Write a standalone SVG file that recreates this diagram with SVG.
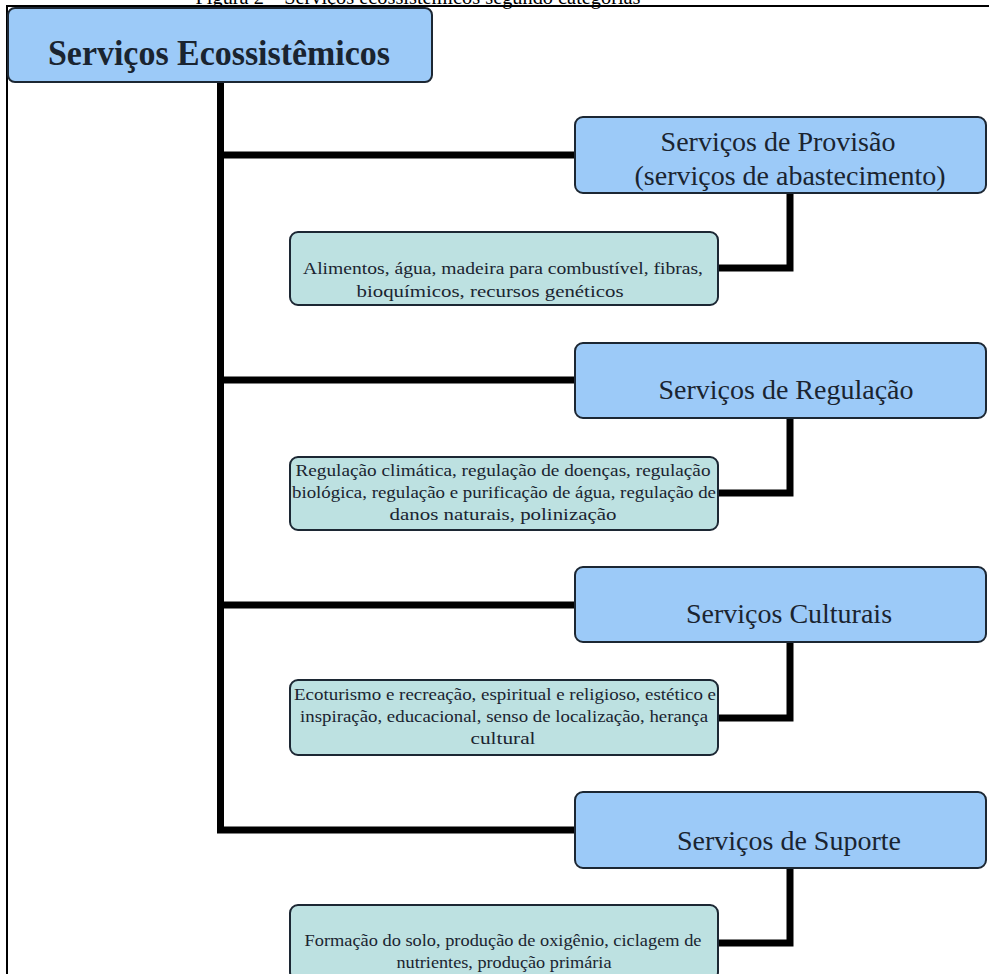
<svg xmlns="http://www.w3.org/2000/svg" width="989" height="974" viewBox="0 0 989 974">
<style>
.cat{fill:#9ccaf8;stroke:#1c2733;stroke-width:2}
.det{fill:#bde1e1;stroke:#1c2733;stroke-width:2}
.conn{fill:none;stroke:#000;stroke-width:7;stroke-linejoin:miter;stroke-linecap:butt}
.frame{fill:none;stroke:#000;stroke-width:2}
.t1{font-family:"Liberation Serif",serif;font-weight:bold;font-size:35px;fill:#1a2430;text-anchor:middle}
.t2{font-family:"Liberation Serif",serif;font-size:28px;fill:#1a2430;text-anchor:middle}
.t3{font-family:"Liberation Serif",serif;font-size:16.5px;fill:#1a2430;text-anchor:middle}
.cap{font-family:"Liberation Serif",serif;font-size:20px;fill:#000;text-anchor:middle}
</style>
<rect width="989" height="974" fill="#fff"/>
<text class="cap" x="418" y="4" textLength="445" lengthAdjust="spacingAndGlyphs">Figura 2 – Serviços ecossistêmicos segundo categorias</text>
<path class="frame" d="M7,974 V6 H989"/>
<g id="connectors">
<path class="conn" d="M220.5,81 V833"/>
<path class="conn" d="M217,155 H576"/>
<path class="conn" d="M217,380 H576"/>
<path class="conn" d="M217,605 H576"/>
<path class="conn" d="M217,830 H576"/>
<path class="conn" d="M790,193 V268 H718"/>
<path class="conn" d="M790,418 V493 H718"/>
<path class="conn" d="M790,642 V718 H718"/>
<path class="conn" d="M790,868 V943 H718"/>
</g>
<g id="root">
<rect x="8" y="8" width="424" height="74" rx="7" class="cat"/>
<text class="t1" x="219" y="65" textLength="342" lengthAdjust="spacingAndGlyphs">Serviços Ecossistêmicos</text>
</g>
<g id="provisao">
<rect x="575" y="117" width="411" height="76" rx="8" class="cat"/>
<text class="t2" x="778" y="151">Serviços de Provisão</text>
<text class="t2" x="790" y="185">(serviços de abastecimento)</text>
</g>
<g id="provisao-itens">
<rect x="290" y="232" width="428" height="73" rx="8" class="det"/>
<text class="t3" x="503" y="274" textLength="400" lengthAdjust="spacingAndGlyphs">Alimentos, água, madeira para combustível, fibras,</text>
<text class="t3" x="490" y="297" textLength="267" lengthAdjust="spacingAndGlyphs">bioquímicos, recursos genéticos</text>
</g>
<g id="regulacao">
<rect x="575" y="343" width="411" height="75" rx="8" class="cat"/>
<text class="t2" x="786" y="399">Serviços de Regulação</text>
</g>
<g id="regulacao-itens">
<rect x="290" y="457" width="428" height="73" rx="8" class="det"/>
<text class="t3" x="503" y="476" textLength="415" lengthAdjust="spacingAndGlyphs">Regulação climática, regulação de doenças, regulação</text>
<text class="t3" x="504" y="498" textLength="424" lengthAdjust="spacingAndGlyphs">biológica, regulação e purificação de água, regulação de</text>
<text class="t3" x="503" y="520" textLength="227" lengthAdjust="spacingAndGlyphs">danos naturais, polinização</text>
</g>
<g id="culturais">
<rect x="575" y="567" width="411" height="75" rx="8" class="cat"/>
<text class="t2" x="789" y="623">Serviços Culturais</text>
</g>
<g id="culturais-itens">
<rect x="290" y="680" width="428" height="75" rx="8" class="det"/>
<text class="t3" x="505" y="700" textLength="422" lengthAdjust="spacingAndGlyphs">Ecoturismo e recreação, espiritual e religioso, estético e</text>
<text class="t3" x="504" y="722" textLength="408" lengthAdjust="spacingAndGlyphs">inspiração, educacional, senso de localização, herança</text>
<text class="t3" x="503" y="744" textLength="65" lengthAdjust="spacingAndGlyphs">cultural</text>
</g>
<g id="suporte">
<rect x="575" y="792" width="411" height="76" rx="8" class="cat"/>
<text class="t2" x="789" y="850">Serviços de Suporte</text>
</g>
<g id="suporte-itens">
<rect x="290" y="905" width="428" height="75" rx="8" class="det"/>
<text class="t3" x="503" y="946" textLength="397" lengthAdjust="spacingAndGlyphs">Formação do solo, produção de oxigênio, ciclagem de</text>
<text class="t3" x="504" y="968" textLength="215" lengthAdjust="spacingAndGlyphs">nutrientes, produção primária</text>
</g>
</svg>
